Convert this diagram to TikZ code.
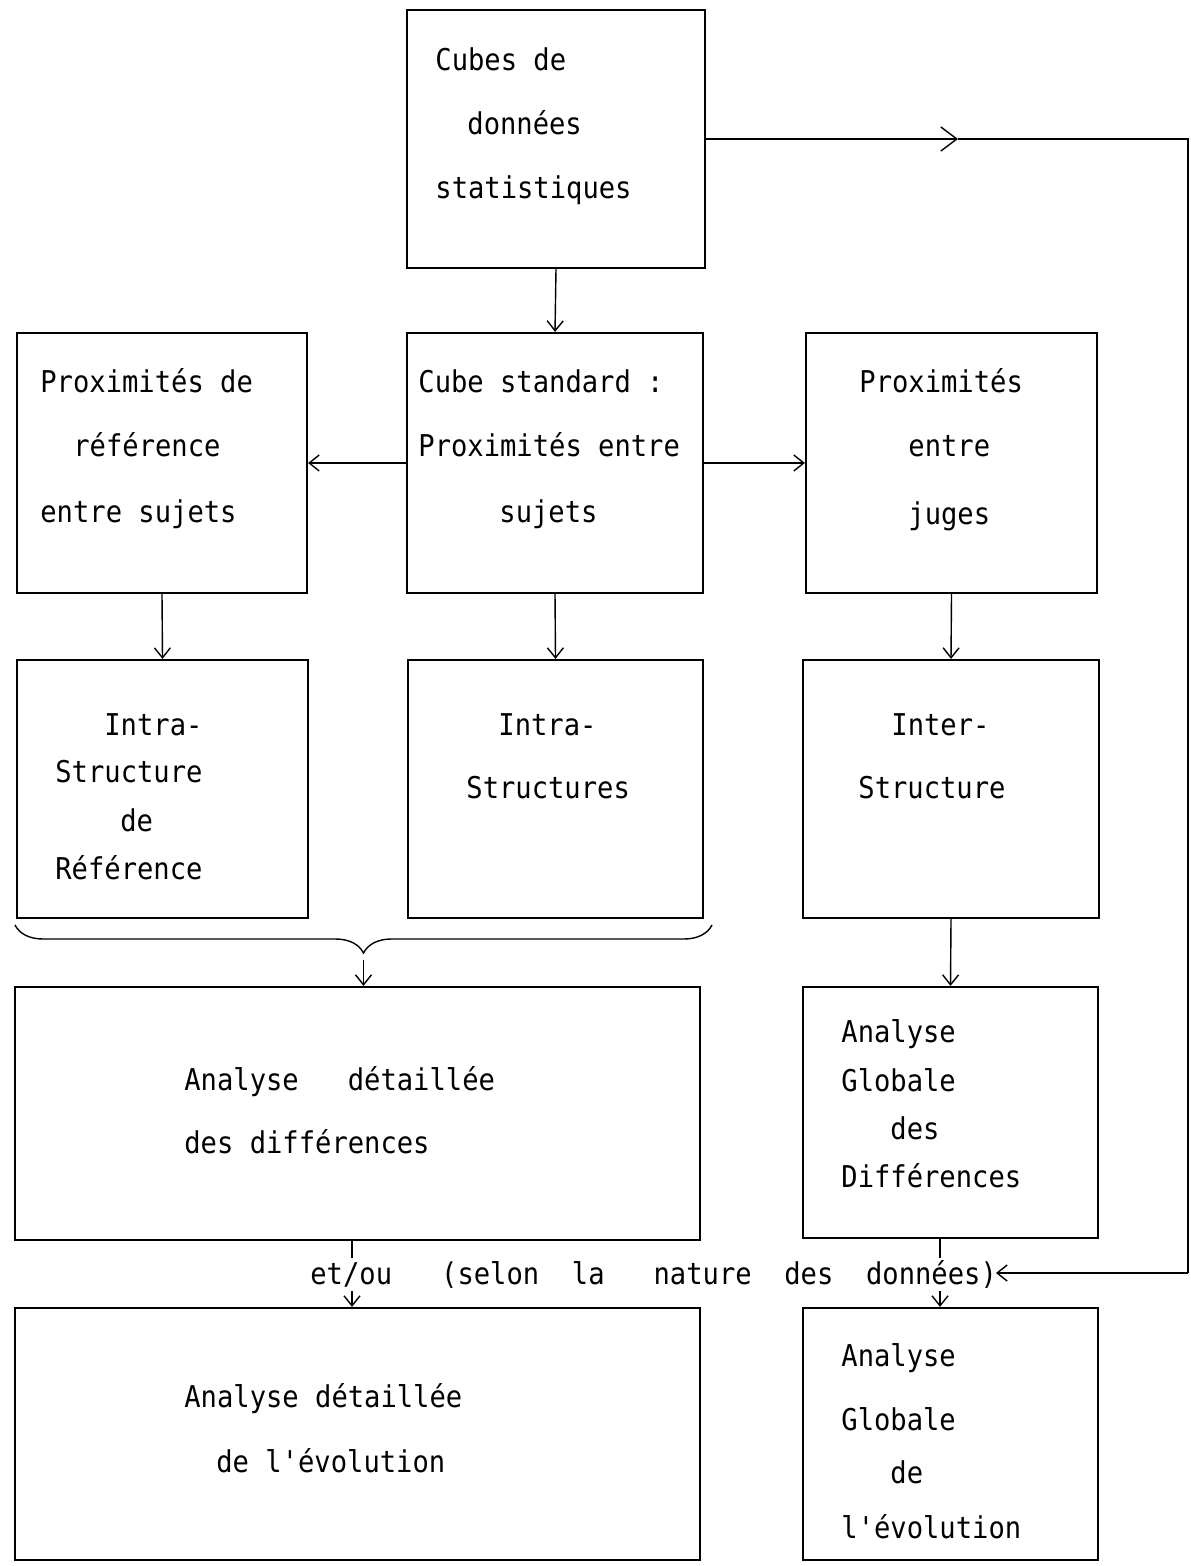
\documentclass[tikz,border=0pt]{standalone}
\usepackage{fontspec}
\newfontfamily\typew[FakeStretch=0.905]{DejaVu Sans Mono}
\usetikzlibrary{arrows.meta,decorations.pathreplacing}

\begin{document}
\begin{tikzpicture}
[x=0.5pt,y=-0.5pt,
box/.style={rectangle,draw=black,line width=1.1pt,inner sep=0pt},
plain/.style={inner sep=0pt,anchor=base west,font=\typew\fontsize{15}{18}\selectfont},
link/.style={line width=0.7pt},
arr/.style={link,-{Straight Barb[length=5pt,width=8pt]}}
]
\useasboundingbox (0,0) rectangle (1190,1566);

% boxes
\node[box,minimum width=149pt,minimum height=129pt] (cube) at (556,139){};
\node[box,minimum width=145pt,minimum height=130pt] (pref) at (162,463){};
\node[box,minimum width=148pt,minimum height=130pt] (std) at (555,463){};
\node[box,minimum width=145.5pt,minimum height=130pt] (pjug) at (951.5,463){};
\node[box,minimum width=145.5pt,minimum height=129pt] (intraR) at (162.5,789){};
\node[box,minimum width=147.5pt,minimum height=129pt] (intraS) at (555.5,789){};
\node[box,minimum width=148pt,minimum height=129pt] (inter) at (951,789){};
\node[box,minimum width=342.5pt,minimum height=126.5pt] (adiff) at (357.5,1113.5){};
\node[box,minimum width=147.5pt,minimum height=125.5pt] (gdiff) at (950.5,1112.5){};
\node[box,minimum width=342.5pt,minimum height=126pt] (aevol) at (357.5,1434){};
\node[box,minimum width=147.5pt,minimum height=126pt] (gevol) at (950.5,1434){};

% texts
\node[plain] (cube1) at (435,71){Cubes de};
\node[plain] (cube2) at (467,135){données};
\node[plain] (cube3) at (435,199){statistiques};

\node[plain] (pref1) at (40,393){Proximités de};
\node[plain] (pref2) at (73,457){référence};
\node[plain] (pref3) at (40,523){entre sujets};

\node[plain] (std1) at (418,393){Cube standard :};
\node[plain] (std2) at (418,457){Proximités entre};
\node[plain] (std3) at (499,523){sujets};

\node[plain] (pjug1) at (859,393){Proximités};
\node[plain] (pjug2) at (908,457){entre};
\node[plain] (pjug3) at (908,524){juges};

\node[plain] (intraR1) at (104,735){Intra-};
\node[plain] (intraR2) at (55,782){Structure};
\node[plain] (intraR3) at (120,831){de};
\node[plain] (intraR4) at (55,879){Référence};

\node[plain] (intraS1) at (498,735){Intra-};
\node[plain] (intraS2) at (466,798){Structures};

\node[plain] (inter1) at (891,735){Inter-};
\node[plain] (inter2) at (858,798){Structure};

\node[plain] (adiff1) at (184,1090){Analyse~~~détaillée};
\node[plain] (adiff2) at (184,1153){des différences};

\node[plain] (gdiff1) at (841,1042){Analyse};
\node[plain] (gdiff2) at (841,1091){Globale};
\node[plain] (gdiff3) at (890,1139){des};
\node[plain] (gdiff4) at (841,1187){Différences};

\node[plain] (note) at (310,1284){et/ou~~~(selon~~la~~~nature~~des~~données)};

\node[plain] (aevol1) at (184,1407){Analyse détaillée};
\node[plain] (aevol2) at (216,1472){de l'évolution};

\node[plain] (gevol1) at (841,1366){Analyse};
\node[plain] (gevol2) at (841,1430){Globale};
\node[plain] (gevol3) at (890,1483){de};
\node[plain] (gevol4) at (841,1538){l'évolution};

% arrows
\draw[arr] (cube.south) -- (std.north);
\draw[arr] (std.west) -- (pref.east);
\draw[arr] (std.east) -- (pjug.west);
\draw[arr] (pref.south) -- (intraR.north);
\draw[arr] (std.south) -- (intraS.north);
\draw[arr] (pjug.south) -- (inter.north);
\draw[arr] (inter.south) -- (gdiff.north);

% brace
\coordinate (bl) at (15,925);
\coordinate (br) at (712,925);
\coordinate (btip) at (363.5,960);
\draw[link,decorate,decoration={brace,mirror,amplitude=14pt}] (bl) -- (br);
\draw[arr] (btip) -- (btip |- adiff.north);

% et/ou
\coordinate (sA) at (352,1258);
\coordinate (sB) at (352,1291);
\coordinate (sC) at (940,1258);
\coordinate (sD) at (940,1291);
\draw[link] (sA |- adiff.south) -- (sA);
\draw[arr] (sB) -- (sB |- aevol.north);
\draw[link] (sC |- gdiff.south) -- (sC);
\draw[arr] (sD) -- (sD |- gevol.north);

% right loop
\coordinate (midA) at (958,139);
\coordinate (corA) at (1188,139);
\coordinate (corB) at (1188,1273);
\coordinate (noteR) at (996,1273);
\draw[link,-{Straight Barb[length=8pt,width=12pt]}] (cube.east) -- (midA);
\draw[link] (midA) -- (corA) -- (corB);
\draw[arr] (corB) -- (noteR);
\end{tikzpicture}
\end{document}
